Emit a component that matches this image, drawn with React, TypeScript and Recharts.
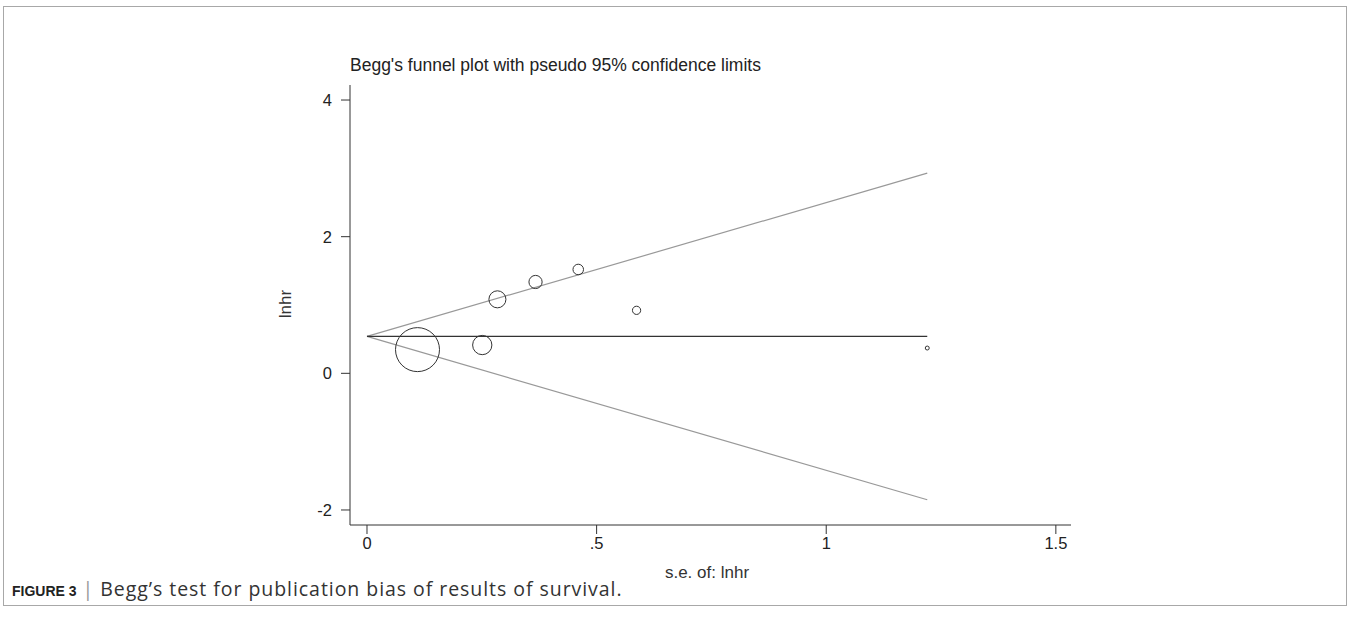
import { ComposedChart, Scatter, XAxis, YAxis } from "recharts";

// study estimates
const seValues = [0.11, 0.251, 0.284, 0.367, 0.46, 0.587, 1.22];
const lnhrValues = [0.347, 0.414, 1.083, 1.337, 1.52, 0.922, 0.37];

// pooled estimate and pseudo 95% limits, at se = 0 and at the largest se
const limitSe = [0, 1.22];
const pooledValues = [0.54, 0.54];
const upperValues = [0.54, 2.93];
const lowerValues = [0.54, -1.85];

const xTicks = [0, 0.5, 1, 1.5];
const xTickLabels = ["0", ".5", "1", "1.5"];
const yTicks = [-2, 0, 2, 4];

const studies = seValues.map((se, i) => ({ se, lnhr: lnhrValues[i] }));
const toLine = (values: number[]) => limitSe.map((se, i) => ({ se, lnhr: values[i] }));

const font = '"Liberation Sans", Arial, Helvetica, sans-serif';

function StudyCircle(props: any) {
  const { cx, cy, payload } = props;
  if (cx == null || cy == null) return null;
  // marker area follows 1/se^2 weights
  const r = 2.42 / payload.se;
  return <circle cx={cx} cy={cy} r={r} fill="none" stroke="#333" strokeWidth={1} />;
}

const noDot = () => null;

export default function App() {
  return (
    <div style={{ position: "absolute", left: 0, top: 0, width: 1351, height: 641, background: "#fff", fontFamily: font }}>
      <div
        style={{
          position: "absolute",
          left: 3,
          top: 6,
          width: 1344,
          height: 600,
          border: "1px solid #a8a8a8",
          boxSizing: "border-box",
        }}
      />
      <div style={{ position: "absolute", left: 350, top: 55, fontSize: 17.5, color: "#222", whiteSpace: "nowrap" }}>
        Begg's funnel plot with pseudo 95% confidence limits
      </div>
      <div
        style={{
          position: "absolute",
          left: 286,
          top: 304,
          fontSize: 17,
          color: "#333",
          transform: "translate(-50%, -50%) rotate(-90deg)",
          whiteSpace: "nowrap",
        }}
      >
        lnhr
      </div>
      <div
        style={{
          position: "absolute",
          left: 707,
          top: 573,
          fontSize: 17,
          color: "#333",
          transform: "translate(-50%, -50%)",
          whiteSpace: "nowrap",
        }}
      >
        s.e. of: lnhr
      </div>
      <ComposedChart
        width={1351}
        height={641}
        margin={{ top: 85, right: 280, bottom: 76, left: 290 }}
        style={{ position: "absolute", left: 0, top: 0 }}
      >
        <XAxis
          type="number"
          dataKey="se"
          domain={[-0.037, 1.533]}
          ticks={xTicks}
          tickFormatter={(v: number) => xTickLabels[xTicks.indexOf(v)] ?? String(v)}
          allowDataOverflow
          height={40}
          tickSize={9}
          tickMargin={3}
          stroke="#333"
          tick={{ fill: "#222", fontSize: 16.5, fontFamily: font }}
        />
        <YAxis
          type="number"
          dataKey="lnhr"
          domain={[-2.22, 4.22]}
          ticks={yTicks}
          allowDataOverflow
          width={60}
          tickSize={9}
          tickMargin={9}
          stroke="#333"
          tick={{ fill: "#222", fontSize: 16.5, fontFamily: font }}
        />
        <Scatter data={toLine(upperValues)} line={{ stroke: "#999", strokeWidth: 1.2 }} shape={noDot} isAnimationActive={false} />
        <Scatter data={toLine(lowerValues)} line={{ stroke: "#999", strokeWidth: 1.2 }} shape={noDot} isAnimationActive={false} />
        <Scatter data={toLine(pooledValues)} line={{ stroke: "#333", strokeWidth: 1.2 }} shape={noDot} isAnimationActive={false} />
        <Scatter data={studies} shape={StudyCircle} isAnimationActive={false} />
      </ComposedChart>
      <div
        style={{
          position: "absolute",
          left: 12,
          top: 575,
          fontSize: 19.5,
          letterSpacing: 0.95,
          color: "#333",
          whiteSpace: "nowrap",
          fontFamily: '"Open Sans", sans-serif',
        }}
      >
        <b style={{ color: "#222", fontSize: 14, letterSpacing: 0, fontFamily: font }}>FIGURE 3</b>{" "}
        <span style={{ color: "#999" }}>|</span> Begg’s test for publication bias of results of survival.
      </div>
    </div>
  );
}
